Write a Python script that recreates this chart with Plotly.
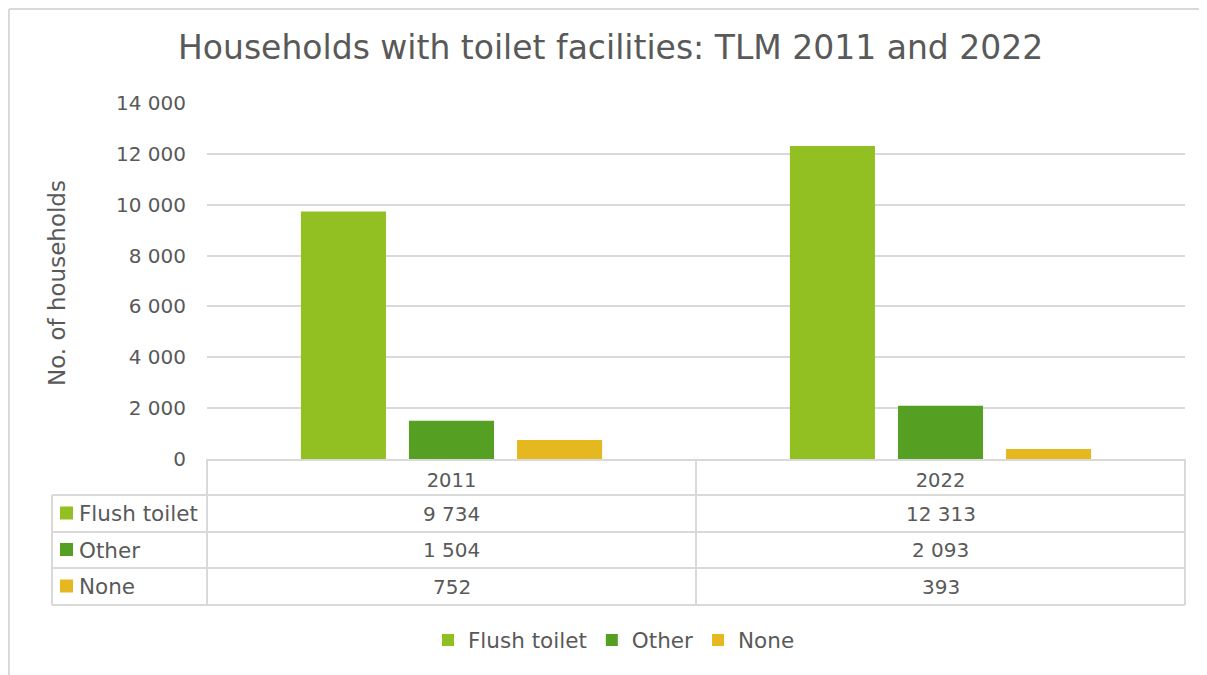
import plotly.graph_objects as go

years = ["2011", "2022"]
series_names = ["Flush toilet", "Other", "None"]
flush_toilet = [9734, 12313]
other = [1504, 2093]
none_vals = [752, 393]
series_values = [flush_toilet, other, none_vals]
colors = ["#92C022", "#55A022", "#E6B820"]
y_ticks = [0, 2000, 4000, 6000, 8000, 10000, 12000, 14000]

W, H = 1207, 675
OFF = 8  # page offset of the figure (body margin)
TXT = "#595959"
GRID = "#D9D9D9"
FONT = "DejaVu Sans"


def fx(px):
    return (px - OFF) / W


def fy(py):
    return 1 - (py - OFF) / H


def fmt(v):
    return f"{v:,}".replace(",", " ")


fig = go.Figure()
for name, vals, col in zip(series_names, series_values, colors):
    fig.add_trace(go.Bar(x=years, y=vals, name=name, marker=dict(color=col, line=dict(width=0))))

PL, PR, PT, PB = 207, 1185, 103, 459

fig.update_layout(
    width=W, height=H, autosize=False,
    margin=dict(l=0, r=0, t=0, b=0, pad=0, autoexpand=False),
    paper_bgcolor="white", plot_bgcolor="white",
    separators=". ",
    barmode="group", bargap=0.337, bargroupgap=0.213,
    font=dict(family=FONT, color=TXT),
    xaxis=dict(domain=[fx(PL), fx(PR)], showgrid=False, showline=True, linecolor=GRID, linewidth=2,
               tickfont=dict(size=19.5, color=TXT), ticks="", ticklabelstandoff=3, automargin=False),
    yaxis=dict(domain=[fy(PB), fy(PT)], range=[0, 14000], tickvals=y_ticks, tickformat=",d",
               showgrid=True, gridcolor=GRID, gridwidth=1.5, zeroline=False, showline=False,
               tickfont=dict(size=20, color=TXT), ticklabelstandoff=20, automargin=False),
    showlegend=True,
    legend=dict(orientation="h", x=fx(614), xanchor="center", y=fy(640), yanchor="middle",
                font=dict(size=21.5, color=TXT), itemwidth=30, traceorder="normal"),
)

# Title
fig.add_annotation(text="Households with toilet facilities: TLM 2011 and 2022", x=fx(610), y=fy(48),
                   xref="paper", yref="paper", showarrow=False, font=dict(size=33, color=TXT),
                   xanchor="center", yanchor="middle")
# Y-axis title
fig.add_annotation(text="No. of households", x=fx(57), y=fy(283), xref="paper", yref="paper",
                   showarrow=False, textangle=-90, font=dict(size=23, color=TXT),
                   xanchor="center", yanchor="middle")

# Data table lines
LC = 52
MID = 696
rows_y = [495, 532, 568, 605]
shapes = []


def line(x0, y0, x1, y1, w=2):
    shapes.append(dict(type="line", xref="paper", yref="paper", x0=fx(x0), y0=fy(y0), x1=fx(x1), y1=fy(y1),
                       line=dict(color=GRID, width=w)))


for ry in rows_y:
    line(LC, ry, PR, ry)
line(PL, PB, PL, rows_y[-1])
line(MID, PB, MID, rows_y[-1])
line(PR, PB, PR, rows_y[-1])
line(LC, rows_y[0], LC, rows_y[-1])

# outer chart border (left and top edges only)
line(9, 9, 9, 675 + OFF)
line(9, 9, 1207 + OFF, 9)

col_centers = [(PL + MID) / 2, (MID + PR) / 2]
for i, (name, vals, col) in enumerate(zip(series_names, series_values, colors)):
    cy = (rows_y[i] + rows_y[i + 1]) / 2
    shapes.append(dict(type="rect", xref="paper", yref="paper", x0=fx(60), x1=fx(73), y0=fy(cy + 6), y1=fy(cy - 7),
                       fillcolor=col, line=dict(width=0)))
    fig.add_annotation(text=name, x=fx(77), y=fy(cy), xref="paper", yref="paper", showarrow=False,
                       xanchor="left", yanchor="middle", font=dict(size=21.5, color=TXT))
    for cx, v in zip(col_centers, vals):
        fig.add_annotation(text=fmt(v), x=fx(cx), y=fy(cy), xref="paper", yref="paper", showarrow=False,
                           xanchor="center", yanchor="middle", font=dict(size=20, color=TXT))

fig.update_layout(shapes=shapes)
fig.write_html("out.html")
